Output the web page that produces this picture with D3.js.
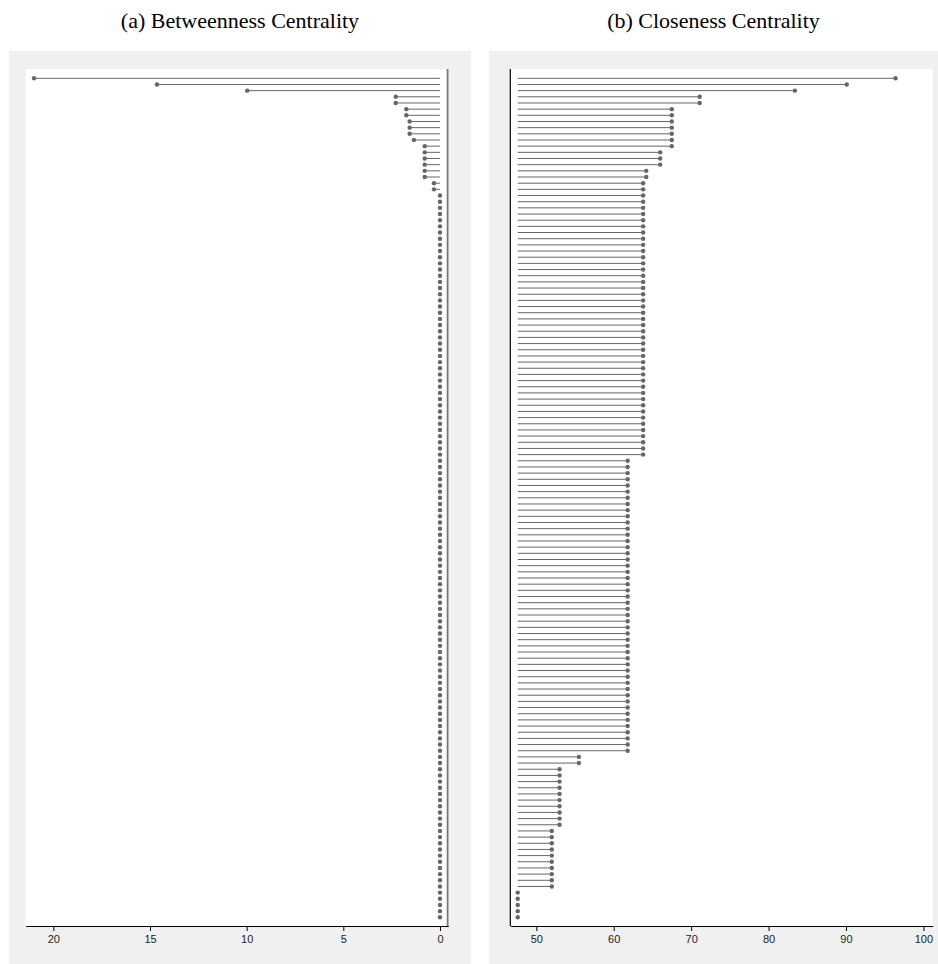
<!DOCTYPE html>
<html>
<head>
<meta charset="utf-8">
<script src="https://cdn.jsdelivr.net/npm/d3@7"></script>
<style>
  body { margin: 0; background: #fff; }
  svg { display: block; }
</style>
</head>
<body>
<div id="chart"></div>
<script>
// values, one per node, sorted as drawn (top to bottom)
var betweenness = [
  21.0, 14.64, 9.97, 2.29, 2.29, 1.74, 1.74, 1.57, 1.57, 1.57,
  1.35, 0.79, 0.79, 0.79, 0.79, 0.79, 0.79, 0.31, 0.31, 0,
  0, 0, 0, 0, 0, 0, 0, 0, 0, 0,
  0, 0, 0, 0, 0, 0, 0, 0, 0, 0,
  0, 0, 0, 0, 0, 0, 0, 0, 0, 0,
  0, 0, 0, 0, 0, 0, 0, 0, 0, 0,
  0, 0, 0, 0, 0, 0, 0, 0, 0, 0,
  0, 0, 0, 0, 0, 0, 0, 0, 0, 0,
  0, 0, 0, 0, 0, 0, 0, 0, 0, 0,
  0, 0, 0, 0, 0, 0, 0, 0, 0, 0,
  0, 0, 0, 0, 0, 0, 0, 0, 0, 0,
  0, 0, 0, 0, 0, 0, 0, 0, 0, 0,
  0, 0, 0, 0, 0, 0, 0, 0, 0, 0,
  0, 0, 0, 0, 0, 0, 0
];

var closeness = [
  96.4, 90.1, 83.4, 71.1, 71.1, 67.5, 67.5, 67.5, 67.5, 67.5,
  67.5, 67.5, 66.0, 66.0, 66.0, 64.2, 64.2, 63.8, 63.8, 63.8,
  63.8, 63.8, 63.8, 63.8, 63.8, 63.8, 63.8, 63.8, 63.8, 63.8,
  63.8, 63.8, 63.8, 63.8, 63.8, 63.8, 63.8, 63.8, 63.8, 63.8,
  63.8, 63.8, 63.8, 63.8, 63.8, 63.8, 63.8, 63.8, 63.8, 63.8,
  63.8, 63.8, 63.8, 63.8, 63.8, 63.8, 63.8, 63.8, 63.8, 63.8,
  63.8, 63.8, 61.8, 61.8, 61.8, 61.8, 61.8, 61.8, 61.8, 61.8,
  61.8, 61.8, 61.8, 61.8, 61.8, 61.8, 61.8, 61.8, 61.8, 61.8,
  61.8, 61.8, 61.8, 61.8, 61.8, 61.8, 61.8, 61.8, 61.8, 61.8,
  61.8, 61.8, 61.8, 61.8, 61.8, 61.8, 61.8, 61.8, 61.8, 61.8,
  61.8, 61.8, 61.8, 61.8, 61.8, 61.8, 61.8, 61.8, 61.8, 61.8,
  55.5, 55.5, 53.0, 53.0, 53.0, 53.0, 53.0, 53.0, 53.0, 53.0,
  53.0, 53.0, 52.0, 52.0, 52.0, 52.0, 52.0, 52.0, 52.0, 52.0,
  52.0, 52.0, 47.6, 47.6, 47.6, 47.6, 47.6
];

var titles = ["(a) Betweenness Centrality", "(b) Closeness Centrality"];
var ticksA = [20, 15, 10, 5, 0];
var ticksB = [50, 60, 70, 80, 90, 100];

var svg_width = 938;
var svg_height = 964;

var svg = d3.select("#chart")
  .append("svg")
  .attr("width", svg_width)
  .attr("height", svg_height);

var ink = "#666";

// plot box shared by both panels (vertical)
var plot_top = 69, plot_bottom = 926;

var y_scale = d3.scalePoint()
  .domain(d3.range(betweenness.length))
  .range([78.3, 917.3]);

function panel(opts) {
  var g = svg.append("g");

  g.append("rect")
    .attr("x", opts.bg[0]).attr("y", 51)
    .attr("width", opts.bg[1] - opts.bg[0]).attr("height", 913)
    .attr("fill", "#f0f0f0");

  g.append("rect")
    .attr("x", opts.plot[0]).attr("y", plot_top)
    .attr("width", opts.plot[1] - opts.plot[0]).attr("height", plot_bottom - plot_top)
    .attr("fill", "#fff");

  g.append("text")
    .attr("x", (opts.bg[0] + opts.bg[1]) / 2)
    .attr("y", 28)
    .attr("text-anchor", "middle")
    .style("font-family", "'Liberation Serif', 'Times New Roman', serif")
    .style("font-size", "22px")
    .style("fill", "#000")
    .text(opts.title);

  var x_scale = d3.scaleLinear()
    .domain(opts.domain)
    .range(opts.plot);

  var rows = g.selectAll(".row")
    .data(opts.values)
    .enter()
    .append("g")
    .attr("class", "row");

  // stem from the base value out to the node's value (zero length when equal)
  rows.append("line")
    .attr("x1", x_scale(opts.base))
    .attr("x2", d => x_scale(d))
    .attr("y1", (d, i) => y_scale(i))
    .attr("y2", (d, i) => y_scale(i))
    .attr("stroke", ink)
    .attr("stroke-width", 1);

  rows.append("circle")
    .attr("cx", d => x_scale(d))
    .attr("cy", (d, i) => y_scale(i))
    .attr("r", 2.2)
    .attr("fill", ink);

  // vertical axis line
  g.append("line")
    .attr("x1", opts.vline).attr("x2", opts.vline)
    .attr("y1", plot_top).attr("y2", plot_bottom)
    .attr("stroke", opts.vcolor)
    .attr("stroke-width", opts.vwidth);

  var bottom_axis = d3.axisBottom(x_scale)
    .tickValues(opts.ticks)
    .tickSize(5)
    .tickSizeOuter(0)
    .tickPadding(4);

  var ax = g.append("g")
    .attr("transform", `translate(0,${plot_bottom})`)
    .call(bottom_axis);

  ax.select(".domain").attr("stroke", "#000").attr("stroke-width", 1.2);
  ax.selectAll(".tick line").attr("stroke", "#000");
  ax.selectAll(".tick text")
    .style("font-family", "'Liberation Sans', Arial, sans-serif")
    .style("font-size", "11px")
    .style("fill", "#222");
}

panel({
  title: titles[0],
  values: betweenness,
  bg: [9, 471],
  plot: [25.7, 448.3],
  domain: [21.43, -0.43],
  base: 0,
  ticks: ticksA,
  vline: 447.6,
  vcolor: "#777",
  vwidth: 1.8
});

panel({
  title: titles[1],
  values: closeness,
  bg: [489, 938],
  plot: [510.3, 932.7],
  domain: [46.64, 101.2],
  base: d3.min(closeness),
  ticks: ticksB,
  vline: 510.3,
  vcolor: "#000",
  vwidth: 1.2
});
</script>
</body>
</html>
